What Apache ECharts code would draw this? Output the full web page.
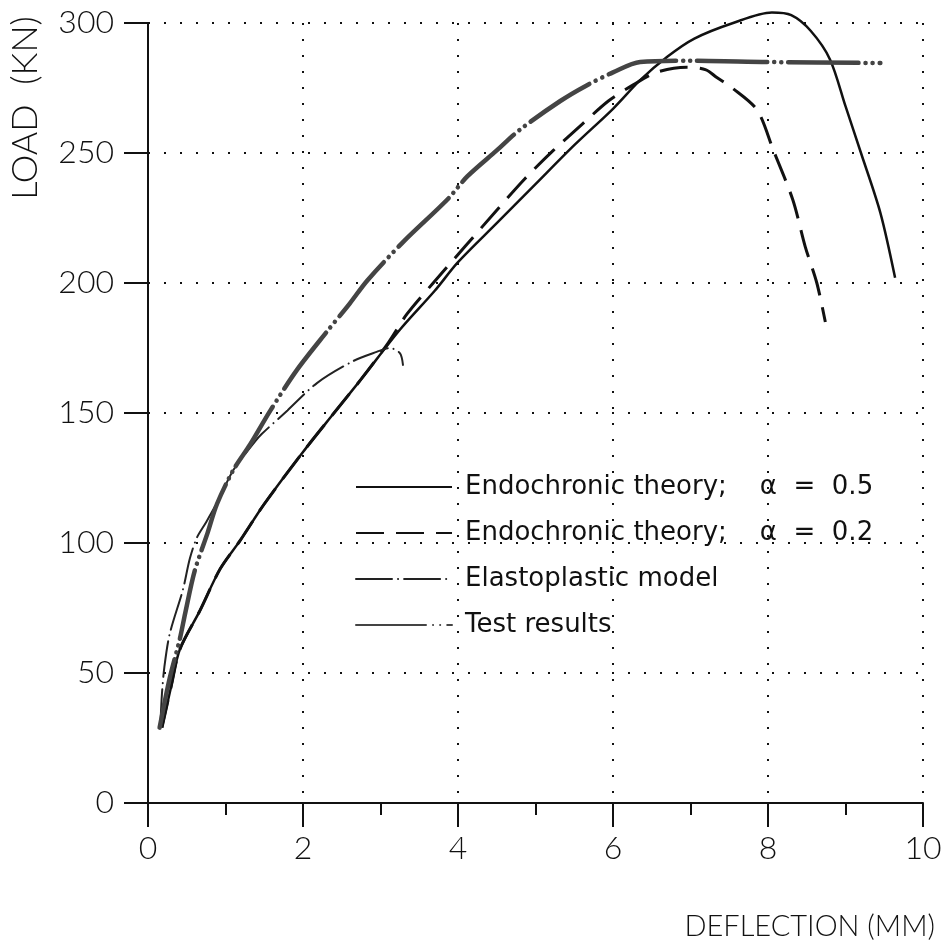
<!DOCTYPE html>
<html>
<head>
<meta charset="utf-8">
<script src="https://cdn.jsdelivr.net/npm/echarts@6/dist/echarts.min.js"></script>
<style>
  html, body { margin: 0; padding: 0; background: #fff; }
  #chart { width: 945px; height: 949px; }
</style>
</head>
<body>
<div id="chart"></div>
<script>
// deflection (mm), load (kN)
const endo05 = [
  [0.18, 29], [0.3, 45], [0.41, 59], [0.67, 74], [0.93, 90], [1.19, 101], [1.5, 115],
  [2.0, 135], [2.4, 150], [2.75, 163], [3.25, 182], [3.7, 197], [4.0, 208], [4.5, 223],
  [5.0, 238], [5.5, 253], [6.0, 267], [6.35, 278], [6.7, 287], [7.05, 294],
  [7.55, 300], [8.05, 304], [8.3, 303], [8.55, 297], [8.8, 286], [9.0, 268], [9.2, 250],
  [9.45, 227], [9.64, 202]
];
const endo02 = [
  [0.18, 29], [0.3, 45], [0.41, 59], [0.67, 74], [0.93, 90], [1.19, 101], [1.5, 115],
  [2.0, 135], [2.4, 150], [2.75, 163], [3.1, 177], [3.34, 188], [3.68, 200], [4.09, 214],
  [4.5, 228], [4.86, 240], [5.23, 251], [5.6, 261], [5.94, 270], [6.25, 276], [6.56, 281],
  [6.95, 283], [7.2, 282], [7.34, 279], [7.54, 275], [7.86, 266.5], [8.07, 251], [8.32, 232],
  [8.48, 214], [8.63, 200], [8.74, 185]
];
const elasto = [
  [0.16, 30], [0.18, 42], [0.21, 52], [0.28, 65], [0.45, 82], [0.54, 94], [0.63, 102],
  [0.75, 108], [0.9, 116], [1.1, 128], [1.38, 139], [1.47, 142], [1.8, 151], [2.18, 161.5],
  [2.65, 170], [2.95, 173.5], [3.12, 175], [3.25, 173], [3.29, 168.5]
];
const test = [
  [0.15, 29], [0.28, 48], [0.41, 63], [0.48, 73], [0.6, 89], [0.77, 104], [0.89, 115],
  [1.1, 128], [1.32, 138], [1.58, 151], [1.92, 166.5], [2.3, 181], [2.6, 192], [2.83, 201],
  [3.3, 216], [3.86, 232], [4.12, 241], [4.5, 251], [4.8, 259], [5.32, 270], [5.66, 276],
  [6.0, 281], [6.35, 285], [7.0, 285.5], [8.0, 285], [9.45, 284.6]
];
const seriesNames = [
  'Endochronic theory;    \u03b1  =  0.5',
  'Endochronic theory;    \u03b1  =  0.2',
  'Elastoplastic model',
  'Test results'
];

const tickFont = { fontFamily: 'Lato', fontWeight: 300, fontSize: 32, color: '#111' };
const dotted = { color: '#111', width: 2, type: [2, 14] };

const chart = echarts.init(document.getElementById('chart'));
chart.setOption({
  animation: false,
  backgroundColor: '#fff',
  grid: { left: 148, right: 22, top: 23, bottom: 146 },
  legend: {
    orient: 'vertical',
    left: 355,
    top: 474,
    padding: 0,
    itemWidth: 96,
    itemHeight: 20,
    itemGap: 20,
    itemStyle: { opacity: 0 },
    textStyle: { fontFamily: 'DejaVu Sans', fontSize: 26, color: '#111', padding: [0, 0, 0, 8] },
    data: seriesNames
  },
  xAxis: {
    type: 'value',
    min: 0,
    max: 10,
    interval: 2,
    axisLine: { lineStyle: { color: '#111', width: 2 } },
    axisTick: { length: 24, lineStyle: { color: '#111', width: 2 } },
    minorTick: { show: true, splitNumber: 2, length: 12, lineStyle: { color: '#111', width: 2 } },
    axisLabel: Object.assign({ margin: 30 }, tickFont),
    splitLine: { show: true, lineStyle: dotted }
  },
  yAxis: {
    type: 'value',
    min: 0,
    max: 300,
    interval: 50,
    axisLine: { show: true, lineStyle: { color: '#111', width: 2 } },
    axisTick: { show: true, length: 24, lineStyle: { color: '#111', width: 2 } },
    axisLabel: Object.assign({ margin: 34 }, tickFont),
    splitLine: { show: true, lineStyle: dotted }
  },
  graphic: [
    {
      type: 'text',
      x: 25, y: 108,
      rotation: Math.PI / 2,
      style: {
        text: 'LOAD  (KN)', fontFamily: 'Lato', fontWeight: 300, fontSize: 36,
        fill: '#111', align: 'center', verticalAlign: 'middle'
      }
    },
    {
      type: 'text',
      x: 935, y: 927,
      style: {
        text: 'DEFLECTION (MM)', fontFamily: 'Lato', fontWeight: 300, fontSize: 29,
        fill: '#111', align: 'right', verticalAlign: 'middle'
      }
    }
  ],
  series: [
    {
      name: seriesNames[0], type: 'line', data: endo05, symbol: 'none', smooth: 0.3, clip: false,
      lineStyle: { color: '#111', width: 2.5 }, itemStyle: { color: '#111' }
    },
    {
      name: seriesNames[1], type: 'line', data: endo02, symbol: 'none', smooth: 0.3, clip: false,
      lineStyle: { color: '#111', width: 3, type: [28, 12] }, itemStyle: { color: '#111' }
    },
    {
      name: seriesNames[2], type: 'line', data: elasto, symbol: 'none', smooth: 0.3, clip: false,
      lineStyle: { color: '#222', width: 2, type: [36, 6, 0.1, 6], cap: 'round' },
      itemStyle: { color: '#222' }
    },
    {
      name: seriesNames[3], type: 'line', data: test, symbol: 'none', smooth: 0.3, clip: false,
      lineStyle: { color: '#444', width: 4.5, type: [70, 7, 0.1, 7, 0.1, 7], cap: 'round' },
      itemStyle: { color: '#444' }
    }
  ]
});
</script>
</body>
</html>
